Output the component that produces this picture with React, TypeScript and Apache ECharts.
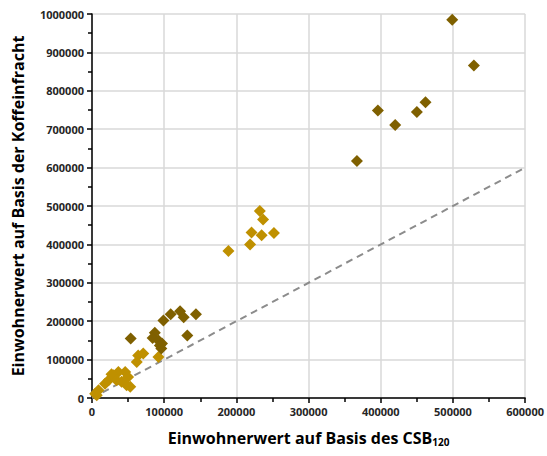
import React, { useEffect, useRef } from "react";
import * as echarts from "echarts";

const darkX = [499000, 529000, 396000, 420000, 450000, 462000, 367000, 99000, 109000, 122000, 127000, 144000, 132000, 53600, 87000, 84000, 92000, 94000, 96000, 97000];
const darkY = [985000, 866000, 749000, 711000, 745000, 770000, 617000, 202000, 218000, 226000, 210000, 218000, 163000, 155000, 170000, 156000, 150000, 137000, 129000, 142000];
const goldX = [232500, 237000, 221000, 235000, 252000, 219000, 189000, 92000, 64000, 71000, 62000, 46000, 36500, 30000, 23000, 34000, 50000, 48000, 18000, 41000, 4300, 9000, 6600, 53000, 27000];
const goldY = [487000, 465000, 431000, 424000, 430000, 400000, 383000, 107000, 111000, 116000, 94000, 68000, 68000, 59000, 46000, 46000, 55000, 33000, 37000, 42000, 11000, 20000, 7000, 29000, 62000];
const refLine = [0, 600000];

const xTitle = "Einwohnerwert auf Basis des CSB";
const xSub = "120";
const yTitle = "Einwohnerwert auf Basis der Koffeinfracht";

export default function App() {
  const ref = useRef<HTMLDivElement>(null);
  useEffect(() => {
    const chart = echarts.init(ref.current!, null, { renderer: "svg" });
    const font = "'Open Sans', 'Noto Sans', sans-serif";
    const axisCommon = {
      axisLine: { show: true, onZero: false, lineStyle: { color: "#000", width: 1.5 } },
      axisTick: { show: true, inside: false, length: 5, lineStyle: { color: "#000", width: 1.5 } },
      minorTick: { show: true, splitNumber: 2, length: 4, lineStyle: { color: "#000", width: 1.5 } },
      splitLine: { show: true, lineStyle: { color: "#d9d9d9", width: 1.5 } },
      axisLabel: {
        color: "#262626",
        fontFamily: font,
        fontSize: 11,
        fontWeight: "bold",
        formatter: (v: number) => String(v),
      },
    };
    chart.setOption({
      animation: false,
      backgroundColor: "#fff",
      grid: { left: 92, right: 21, top: 14, bottom: 58, containLabel: false },
      xAxis: {
        type: "value",
        min: 0,
        max: 600000,
        interval: 100000,
        ...axisCommon,
        axisLabel: { ...axisCommon.axisLabel, margin: 8 },
        name: `{t|${xTitle}}{s|${xSub}}`,
        nameLocation: "middle",
        nameGap: 30,
        nameTextStyle: {
          rich: {
            t: { fontFamily: font, fontSize: 16, fontWeight: "bold", color: "#000" },
            s: { fontFamily: font, fontSize: 10, fontWeight: "bold", color: "#000", verticalAlign: "bottom", padding: [9, 0, 0, 0] },
          },
        },
      },
      yAxis: {
        type: "value",
        min: 0,
        max: 1000000,
        interval: 100000,
        ...axisCommon,
        axisLabel: { ...axisCommon.axisLabel, margin: 8 },
        name: yTitle,
        nameLocation: "middle",
        nameGap: 66,
        nameTextStyle: { fontFamily: font, fontSize: 16, fontWeight: "bold", color: "#000" },
      },
      series: [
        {
          type: "line",
          data: refLine.map((v) => [v, v]),
          symbol: "none",
          lineStyle: { color: "#8c8c8c", width: 2, type: [7, 5] },
          silent: true,
          z: 1,
        },
        {
          type: "scatter",
          symbol: "diamond",
          symbolSize: 12,
          itemStyle: { color: "#bf9000", opacity: 1 },
          data: goldX.map((x, i) => [x, goldY[i]]),
          z: 3,
        },
        {
          type: "scatter",
          symbol: "diamond",
          symbolSize: 12,
          itemStyle: { color: "#7f6000", opacity: 1 },
          data: darkX.map((x, i) => [x, darkY[i]]),
          z: 4,
        },
      ],
    });
    return () => chart.dispose();
  }, []);
  return <div ref={ref} style={{ width: 547, height: 456, position: "absolute", left: 0, top: 0 }} />;
}
